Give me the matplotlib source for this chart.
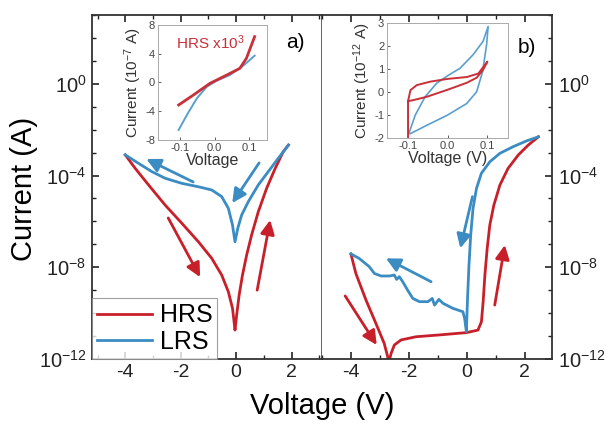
import numpy as np
import matplotlib
matplotlib.use("Agg")
import matplotlib.pyplot as plt
from matplotlib.ticker import MultipleLocator, FixedLocator, NullFormatter, FuncFormatter

plt.rcParams['font.family'] = ['Liberation Sans', 'DejaVu Sans']
plt.rcParams['mathtext.fontset'] = 'custom'
plt.rcParams['mathtext.rm'] = 'Liberation Sans'
plt.rcParams['mathtext.it'] = 'Liberation Sans:italic'
plt.rcParams['mathtext.default'] = 'regular'
plt.rcParams['axes.unicode_minus'] = False

red = "#c8202b"
blue = "#3a8cc2"
red_in = "#c9303a"
blue_in = "#5a9fce"

# ---- panel a) (log10 of current) ----
a_hrs_v = [-4.0, -3.64, -3.16, -2.56, -1.96, -1.36, -0.88, -0.52, -0.28, -0.13, -0.06, -0.04,
           0.02, 0.11, 0.23, 0.38, 0.56, 0.8, 1.1, 1.41, 1.7, 1.89]
a_hrs_logi = [-3.1, -3.69, -4.41, -5.29, -6.08, -6.89, -7.61, -8.34, -9.07, -9.79, -10.52, -10.74,
              -10.08, -9.21, -8.34, -7.47, -6.59, -5.58, -4.56, -3.69, -2.96, -2.67]
a_lrs_v = [-4.0, -3.52, -3.04, -2.56, -1.96, -1.36, -0.88, -0.52, -0.28, -0.13, -0.04,
           0.06, 0.2, 0.44, 0.8, 1.16, 1.52, 1.89]
a_lrs_logi = [-3.1, -3.47, -3.83, -4.12, -4.34, -4.49, -4.63, -4.92, -5.43, -6.16, -6.89,
              -6.3, -5.72, -5.14, -4.41, -3.83, -3.25, -2.67]

# arrows: (tail V, tail logI, head V, head logI, colour)
a_arrows = [(-1.55, -4.28, -3.24, -3.28, "b"),
            (0.83, -3.45, -0.14, -5.2, "b"),
            (-2.45, -5.85, -1.30, -8.43, "r"),
            (0.76, -9.0, 1.23, -5.94, "r")]

# ---- panel b) ----
b_hrs_v = [-4.0, -3.83, -3.48, -3.14, -2.85, -2.73, -2.7, -2.61, -2.5, -2.27, -1.75, -0.94,
           -0.01, 0.39, 0.51, 0.57, 0.63, 0.71, 0.8, 0.94, 1.15, 1.43, 1.78, 2.13, 2.48]
b_hrs_logi = [-7.42, -8.27, -9.43, -10.44, -11.32, -11.9, -12.2, -11.75, -11.39, -11.17, -11.03, -10.95,
              -10.85, -10.74, -10.38, -9.5, -8.34, -7.17, -6.16, -5.29, -4.41, -3.69, -3.11, -2.67, -2.31]
b_lrs_v = [2.48, 2.07, 1.61, 1.15, 0.8, 0.51, 0.34, 0.22, 0.14, 0.08, 0.03, -0.01, -0.07, -0.13,
           -0.48, -0.82, -0.96, -1.11, -1.19, -1.34, -1.63, -1.86, -2.04, -2.21, -2.33, -2.42,
           -2.5, -2.67, -2.96, -3.19, -3.37, -3.72, -4.0]
b_lrs_logi = [-2.31, -2.49, -2.74, -3.03, -3.4, -3.9, -4.56, -5.43, -6.59, -7.9, -9.36, -10.81, -10.23, -9.94,
              -9.79, -9.57, -9.4, -9.65, -9.36, -9.5, -9.5, -9.36, -9.0, -8.63, -8.41, -8.53,
              -8.34, -8.38, -8.38, -8.27, -7.97, -7.61, -7.42]
b_arrows = [(0.2, -4.92, -0.22, -7.17, "b"),
            (-1.23, -8.63, -2.79, -7.61, "b"),
            (-4.2, -9.25, -3.11, -11.39, "r"),
            (0.97, -9.65, 1.32, -7.03, "r")]

# ---- inset a) current in 1e-7 A ----
ia_hrs_v = [-0.105, -0.062, -0.014, 0.035, 0.073, 0.092, 0.116]
ia_hrs_i = [-3.13, -1.74, -0.12, 1.04, 1.97, 3.36, 6.38]
ia_lrs_v = [-0.105, -0.081, -0.052, -0.023, 0.006, 0.044, 0.083, 0.116]
ia_lrs_i = [-6.6, -4.52, -2.2, -0.58, 0.25, 1.04, 2.34, 3.73]

# ---- inset b) current in 1e-12 A ----
ib_hrs_v = [-0.1, -0.1, -0.094, -0.078, -0.044, 0.0, 0.048, 0.077, 0.1,
            0.089, 0.073, 0.048, 0.0, -0.053, -0.086, -0.1]
ib_hrs_i = [-2.0, -0.4, 0.08, 0.30, 0.45, 0.57, 0.65, 0.80, 1.32,
            0.96, 0.62, 0.40, 0.10, -0.21, -0.35, -0.40]
ib_lrs_v = [-0.094, -0.053, 0.0, 0.048, 0.073, 0.088, 0.098, 0.102,
            0.089, 0.064, 0.031, 0.0, -0.028, -0.057, -0.082, -0.098]
ib_lrs_i = [-1.81, -1.45, -1.0, -0.5, 0.01, 0.89, 2.05, 2.85,
            2.2, 1.62, 1.03, 0.71, 0.38, -0.21, -1.01, -1.81]


def pow_label(y, pos):
    e = int(round(np.log10(y)))
    return r"$10^{%d}$" % e


def style_main(ax, xlim, right_labels):
    ax.set_yscale("log")
    ax.set_xlim(*xlim)
    ax.set_ylim(1e-12, 1e3)
    ax.xaxis.set_major_locator(MultipleLocator(2))
    ax.xaxis.set_minor_locator(MultipleLocator(1))
    ax.yaxis.set_major_locator(FixedLocator([1e-12, 1e-8, 1e-4, 1e0]))
    ax.yaxis.set_minor_locator(FixedLocator([10.0 ** k for k in range(-12, 4)]))
    ax.yaxis.set_major_formatter(FuncFormatter(pow_label))
    ax.yaxis.set_minor_formatter(NullFormatter())
    ax.tick_params(which="both", direction="in", labelsize=14, colors="#222222")
    ax.tick_params(axis="y", which="major", labelsize=14.5, pad=4)
    ax.tick_params(which="major", length=5, width=1.2)
    ax.tick_params(which="minor", length=3, width=1.0)
    if right_labels:
        ax.tick_params(axis="y", which="both", left=False, right=True,
                       labelleft=False, labelright=True)
    else:
        ax.tick_params(axis="y", which="both", left=True, right=False)
    ax.tick_params(axis="x", which="both", top=True)
    for s in ax.spines.values():
        s.set_linewidth(1.3)
        s.set_color("#333333")


def draw_arrows(ax, arrows):
    for x0, y0, x1, y1, c in arrows:
        col = red if c == "r" else blue
        ax.annotate("", xy=(x1, 10.0 ** y1), xytext=(x0, 10.0 ** y0),
                    arrowprops=dict(arrowstyle="-|>,head_length=0.6,head_width=0.3",
                                    color=col, lw=2.0,
                                    mutation_scale=14, shrinkA=0, shrinkB=0))


def style_inset(ax, xlim, ylim, yticks, ylabel, xlabel):
    ax.set_xlim(*xlim)
    ax.set_ylim(*ylim)
    ax.set_xticks([-0.1, 0.0, 0.1])
    ax.set_yticks(yticks)
    ax.xaxis.set_major_formatter(FuncFormatter(lambda v, p: "%.1f" % v if abs(v) > 1e-9 else "0.0"))
    ax.tick_params(direction="in", labelsize=8, length=2, width=0.6, colors="#444444", pad=2)
    for s in ax.spines.values():
        s.set_linewidth(0.7)
        s.set_color("#aaaaaa")
    ax.set_ylabel(ylabel, fontsize=11, color="#333333", labelpad=1)
    ax.set_xlabel(xlabel, fontsize=11.5, color="#333333", labelpad=0)


fig = plt.figure(figsize=(6.07, 4.25), dpi=100)
ax_a = fig.add_axes([0.1516, 0.1553, 0.3789, 0.8094])
ax_b = fig.add_axes([0.5305, 0.1553, 0.3789, 0.8094])

ax_a.plot(a_hrs_v, 10.0 ** np.array(a_hrs_logi), color=red, lw=2.0, label="HRS")
ax_a.plot(a_lrs_v, 10.0 ** np.array(a_lrs_logi), color=blue, lw=2.0, label="LRS")
draw_arrows(ax_a, a_arrows)
style_main(ax_a, (-5.2, 3.1), False)
ax_a.spines["right"].set_color("#555555")
ax_a.text(0.885, 0.92, "a)", transform=ax_a.transAxes, fontsize=15, ha="center", va="center")
leg = ax_a.legend(loc="lower left", fontsize=18, frameon=True, fancybox=False,
                  borderaxespad=0.0, handlelength=2.2, handletextpad=0.3,
                  borderpad=0.2, labelspacing=0.1)
leg.get_frame().set_edgecolor("#888888")
leg.get_frame().set_linewidth(0.8)

ax_b.plot(b_hrs_v, 10.0 ** np.array(b_hrs_logi), color=red, lw=2.0)
ax_b.plot(b_lrs_v, 10.0 ** np.array(b_lrs_logi), color=blue, lw=2.0)
draw_arrows(ax_b, b_arrows)
style_main(ax_b, (-5.0, 2.95), True)
ax_b.spines["left"].set_visible(False)
ax_b.text(0.89, 0.905, "b)", transform=ax_b.transAxes, fontsize=15, ha="center", va="center")

fig.text(0.530, 0.045, "Voltage (V)", fontsize=21, ha="center", va="center")
fig.text(0.040, 0.555, "Current (A)", fontsize=21, ha="center", va="center", rotation=90)

# insets
in_a = fig.add_axes([0.2603, 0.6706, 0.1796, 0.2706])
in_a.plot(ia_lrs_v, ia_lrs_i, color=blue_in, lw=1.4)
in_a.plot(ia_hrs_v, ia_hrs_i, color=red_in, lw=2.0)
style_inset(in_a, (-0.165, 0.152), (-8, 8), [-8, -4, 0, 4, 8],
            r"Current (10$^{-7}$ A)", "Voltage")
in_a.text(0.48, 0.85, r"HRS x10$^{3}$", transform=in_a.transAxes, color=red_in,
          fontsize=11, ha="center", va="center")

in_b = fig.add_axes([0.6376, 0.6753, 0.1993, 0.2706])
in_b.plot(ib_lrs_v, ib_lrs_i, color=blue_in, lw=1.2)
in_b.plot(ib_hrs_v, ib_hrs_i, color=red_in, lw=1.4)
style_inset(in_b, (-0.153, 0.152), (-2, 3), [-2, -1, 0, 1, 2, 3],
            r"Current (10$^{-12}$ A)", "Voltage (V)")

fig.savefig("out.png", dpi=100)
